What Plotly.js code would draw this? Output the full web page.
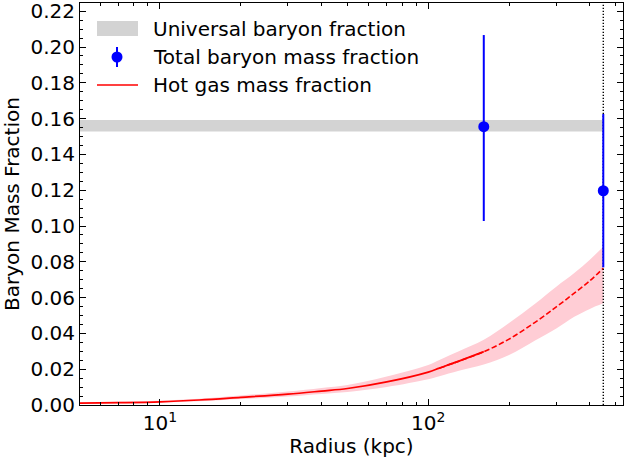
<!DOCTYPE html>
<html>
<head>
<meta charset="utf-8">
<script src="https://cdn.plot.ly/plotly-3.0.1.min.js"></script>
<style>html,body{margin:0;padding:0;background:#fff;}#chart{width:624px;height:458px;}</style>
</head>
<body>
<div id="chart"></div>
<script>
// ---- data ----
const radius   = [5, 7, 10, 14, 20, 30, 40, 50, 70, 100, 110, 130, 161, 200, 250, 300, 350, 400, 449];
const hotGas   = [0.0010, 0.0013, 0.0018, 0.0028, 0.0043, 0.0061, 0.0078, 0.0092, 0.0129, 0.0184, 0.0206, 0.0245, 0.0298, 0.0368, 0.0462, 0.0548, 0.0625, 0.0694, 0.0764];
const hotGasLo = [0.0006, 0.0009, 0.0013, 0.0021, 0.0033, 0.0048, 0.0062, 0.0073, 0.0101, 0.0144, 0.0161, 0.0191, 0.0226, 0.0279, 0.0361, 0.0428, 0.0493, 0.0537, 0.0568];
const hotGasHi = [0.0014, 0.0018, 0.0024, 0.0035, 0.0053, 0.0075, 0.0095, 0.0112, 0.0159, 0.0224, 0.0252, 0.0300, 0.0364, 0.0458, 0.0566, 0.0661, 0.0737, 0.0812, 0.0884];
const measuredLimit = 161;            // solid up to here, dashed beyond
const baryonR    = [161, 449];
const baryonFrac = [0.1555, 0.1197];
const baryonErrUp   = [0.0512, 0.0429];
const baryonErrDown = [0.0527, 0.0428];
const universalLo = 0.1528;
const universalHi = 0.1592;
const universalR  = [5, 449];
const r500 = 449;
const yTop = 0.2246;
const yTickVals = [0, 0.02, 0.04, 0.06, 0.08, 0.10, 0.12, 0.14, 0.16, 0.18, 0.20, 0.22];
const yTickText = ['0.00', '0.02', '0.04', '0.06', '0.08', '0.10', '0.12', '0.14', '0.16', '0.18', '0.20', '0.22'];
const xTickVals = [10, 100];
const xTickText = ['10<sup>1</sup>', '10<sup>2</sup>'];
const xMinorVals = [6, 7, 8, 9, 20, 30, 40, 50, 60, 70, 80, 90, 200, 300, 400, 500];
const legendLabels = ['Universal baryon fraction', 'Total baryon mass fraction', 'Hot gas mass fraction'];

// ---- build traces ----
const iSplit = radius.indexOf(measuredLimit);
const FONT = 'DejaVu Sans, sans-serif';
const FS = 20;
const SPL = {shape: 'spline', smoothing: 1.0};

const traces = [
  {x: universalR, y: universalR.map(() => universalLo), mode: 'lines', line: {width: 0, color: '#d3d3d3'}, hoverinfo: 'skip'},
  {x: universalR, y: universalR.map(() => universalHi), mode: 'lines', fill: 'tonexty', fillcolor: '#d3d3d3', line: {width: 0, color: '#d3d3d3'}, name: legendLabels[0]},
  {x: radius, y: hotGasLo, mode: 'lines', line: Object.assign({width: 0, color: '#ffc8d1'}, SPL), hoverinfo: 'skip'},
  {x: radius, y: hotGasHi, mode: 'lines', fill: 'tonexty', fillcolor: '#ffcdd5', line: Object.assign({width: 0, color: '#ffc8d1'}, SPL), hoverinfo: 'skip'},
  // dashed (extrapolated) part drawn along the whole curve, solid (measured) part on top
  {x: radius.slice(iSplit - 2), y: hotGas.slice(iSplit - 2), mode: 'lines', line: Object.assign({color: 'red', width: 1.6, dash: '5.5px,2.5px'}, SPL)},
  {x: radius.slice(0, iSplit + 1), y: hotGas.slice(0, iSplit + 1), mode: 'lines', line: Object.assign({color: 'red', width: 1.7}, SPL), name: legendLabels[2]},
  {x: [r500, r500], y: [0, yTop], mode: 'lines', line: {color: 'black', width: 1.4, dash: '1.3px,1.7px'}, hoverinfo: 'skip'},
  {x: baryonR, y: baryonFrac, mode: 'markers', marker: {color: 'blue', size: 11},
   error_y: {type: 'data', array: baryonErrUp, arrayminus: baryonErrDown, color: 'blue', thickness: 2, width: 0},
   name: legendLabels[1]}
];

// ---- manual legend (pixel -> paper) ----
const L = 80, R = 1, T = 3, B = 53, W = 624, H = 458;
const pw = W - L - R, ph = H - T - B;
const px = v => (v - L) / pw;
const py = v => (H - B - v) / ph;

const shapes = [
  {type: 'rect', xref: 'paper', yref: 'paper', x0: px(97), x1: px(138), y0: py(36), y1: py(21), fillcolor: '#d3d3d3', line: {width: 0}},
  {type: 'line', xref: 'paper', yref: 'paper', x0: px(117), x1: px(117), y0: py(67), y1: py(47), line: {color: 'blue', width: 2}},
  {type: 'circle', xref: 'paper', yref: 'paper', x0: px(111.5), x1: px(122.5), y0: py(62.5), y1: py(51.5), fillcolor: 'blue', line: {width: 0}},
  {type: 'line', xref: 'paper', yref: 'paper', x0: px(97), x1: px(138), y0: py(85), y1: py(85), line: {color: 'red', width: 1.6}}
];
const legendY = [28.5, 57, 85.5];
const annotations = legendLabels.map((t, i) => ({
  xref: 'paper', yref: 'paper', x: px(151), y: py(legendY[i]), xanchor: 'left', yanchor: 'middle',
  text: t, showarrow: false, font: {family: FONT, size: FS, color: 'black'}
}));

const layout = {
  width: W, height: H,
  margin: {l: L, r: R, t: T, b: B, pad: 0},
  paper_bgcolor: 'white', plot_bgcolor: 'white',
  showlegend: false,
  font: {family: FONT, size: FS, color: 'black'},
  xaxis: {
    type: 'log', range: [Math.log10(5.035), 2.7257],
    tickmode: 'array', tickvals: xTickVals, ticktext: xTickText,
    ticks: 'inside', ticklen: 6, tickwidth: 1, tickcolor: 'black',
    minor: {tickmode: 'array', tickvals: xMinorVals, ticks: 'inside', ticklen: 3, tickwidth: 1, tickcolor: 'black', showgrid: false},
    showline: true, linecolor: 'black', linewidth: 1, mirror: 'allticks',
    showgrid: false, zeroline: false, ticklabeloverflow: 'allow',
    tickfont: {family: FONT, size: FS},
    title: {text: 'Radius (kpc)', font: {family: FONT, size: FS}, standoff: 4}
  },
  yaxis: {
    range: [0, yTop],
    tickmode: 'array', tickvals: yTickVals, ticktext: yTickText,
    ticks: 'inside', ticklen: 6, tickwidth: 1, tickcolor: 'black',
    minor: {tickmode: 'linear', tick0: 0, dtick: 0.005, ticks: 'inside', ticklen: 3, tickwidth: 1, tickcolor: 'black', showgrid: false},
    showline: true, linecolor: 'black', linewidth: 1, mirror: 'allticks',
    showgrid: false, zeroline: false, ticklabeloverflow: 'allow',
    tickfont: {family: FONT, size: FS},
    title: {text: 'Baryon Mass Fraction', font: {family: FONT, size: FS}, standoff: 5}
  },
  shapes: shapes,
  annotations: annotations
};

Plotly.newPlot('chart', traces, layout, {staticPlot: true, displayModeBar: false});
</script>
</body>
</html>
